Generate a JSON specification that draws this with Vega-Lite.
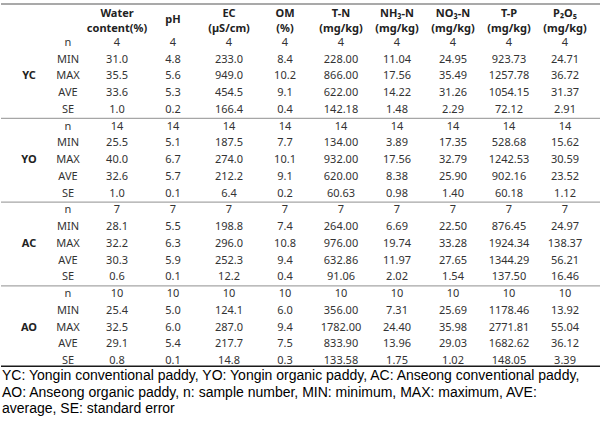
{
  "$schema": "https://vega.github.io/schema/vega-lite/v6.json",
  "autosize": {"type": "fit", "contains": "padding"},
  "width": 601,
  "height": 426,
  "padding": 0,
  "background": "white",
  "config": {"view": {"stroke": null}},
  "datasets": {
    "table": [
      {"r": 0, "grp": "YC", "stat": "n", "w": "4", "ph": "4", "ec": "4", "om": "4", "tn": "4", "nh3": "4", "no3": "4", "tp": "4", "p2o5": "4"},
      {"r": 1, "grp": "YC", "stat": "MIN", "w": "31.0", "ph": "4.8", "ec": "233.0", "om": "8.4", "tn": "228.00", "nh3": "11.04", "no3": "24.95", "tp": "923.73", "p2o5": "24.71"},
      {"r": 2, "grp": "YC", "stat": "MAX", "w": "35.5", "ph": "5.6", "ec": "949.0", "om": "10.2", "tn": "866.00", "nh3": "17.56", "no3": "35.49", "tp": "1257.78", "p2o5": "36.72"},
      {"r": 3, "grp": "YC", "stat": "AVE", "w": "33.6", "ph": "5.3", "ec": "454.5", "om": "9.1", "tn": "622.00", "nh3": "14.22", "no3": "31.26", "tp": "1054.15", "p2o5": "31.37"},
      {"r": 4, "grp": "YC", "stat": "SE", "w": "1.0", "ph": "0.2", "ec": "166.4", "om": "0.4", "tn": "142.18", "nh3": "1.48", "no3": "2.29", "tp": "72.12", "p2o5": "2.91"},
      {"r": 5, "grp": "YO", "stat": "n", "w": "14", "ph": "14", "ec": "14", "om": "14", "tn": "14", "nh3": "14", "no3": "14", "tp": "14", "p2o5": "14"},
      {"r": 6, "grp": "YO", "stat": "MIN", "w": "25.5", "ph": "5.1", "ec": "187.5", "om": "7.7", "tn": "134.00", "nh3": "3.89", "no3": "17.35", "tp": "528.68", "p2o5": "15.62"},
      {"r": 7, "grp": "YO", "stat": "MAX", "w": "40.0", "ph": "6.7", "ec": "274.0", "om": "10.1", "tn": "932.00", "nh3": "17.56", "no3": "32.79", "tp": "1242.53", "p2o5": "30.59"},
      {"r": 8, "grp": "YO", "stat": "AVE", "w": "32.6", "ph": "5.7", "ec": "212.2", "om": "9.1", "tn": "620.00", "nh3": "8.38", "no3": "25.90", "tp": "902.16", "p2o5": "23.52"},
      {"r": 9, "grp": "YO", "stat": "SE", "w": "1.0", "ph": "0.1", "ec": "6.4", "om": "0.2", "tn": "60.63", "nh3": "0.98", "no3": "1.40", "tp": "60.18", "p2o5": "1.12"},
      {"r": 10, "grp": "AC", "stat": "n", "w": "7", "ph": "7", "ec": "7", "om": "7", "tn": "7", "nh3": "7", "no3": "7", "tp": "7", "p2o5": "7"},
      {"r": 11, "grp": "AC", "stat": "MIN", "w": "28.1", "ph": "5.5", "ec": "198.8", "om": "7.4", "tn": "264.00", "nh3": "6.69", "no3": "22.50", "tp": "876.45", "p2o5": "24.97"},
      {"r": 12, "grp": "AC", "stat": "MAX", "w": "32.2", "ph": "6.3", "ec": "296.0", "om": "10.8", "tn": "976.00", "nh3": "19.74", "no3": "33.28", "tp": "1924.34", "p2o5": "138.37"},
      {"r": 13, "grp": "AC", "stat": "AVE", "w": "30.3", "ph": "5.9", "ec": "252.3", "om": "9.4", "tn": "632.86", "nh3": "11.97", "no3": "27.65", "tp": "1344.29", "p2o5": "56.21"},
      {"r": 14, "grp": "AC", "stat": "SE", "w": "0.6", "ph": "0.1", "ec": "12.2", "om": "0.4", "tn": "91.06", "nh3": "2.02", "no3": "1.54", "tp": "137.50", "p2o5": "16.46"},
      {"r": 15, "grp": "AO", "stat": "n", "w": "10", "ph": "10", "ec": "10", "om": "10", "tn": "10", "nh3": "10", "no3": "10", "tp": "10", "p2o5": "10"},
      {"r": 16, "grp": "AO", "stat": "MIN", "w": "25.4", "ph": "5.0", "ec": "124.1", "om": "6.0", "tn": "356.00", "nh3": "7.31", "no3": "25.69", "tp": "1178.46", "p2o5": "13.92"},
      {"r": 17, "grp": "AO", "stat": "MAX", "w": "32.5", "ph": "6.0", "ec": "287.0", "om": "9.4", "tn": "1782.00", "nh3": "24.40", "no3": "35.98", "tp": "2771.81", "p2o5": "55.04"},
      {"r": 18, "grp": "AO", "stat": "AVE", "w": "29.1", "ph": "5.4", "ec": "217.7", "om": "7.5", "tn": "833.90", "nh3": "13.96", "no3": "29.03", "tp": "1682.62", "p2o5": "36.12"},
      {"r": 19, "grp": "AO", "stat": "SE", "w": "0.8", "ph": "0.1", "ec": "14.8", "om": "0.3", "tn": "133.58", "nh3": "1.75", "no3": "1.02", "tp": "148.05", "p2o5": "3.39"}
    ],
    "cols": [
      {"key": "grp", "ci": 0},
      {"key": "stat", "ci": 1},
      {"key": "w", "ci": 2},
      {"key": "ph", "ci": 3},
      {"key": "ec", "ci": 4},
      {"key": "om", "ci": 5},
      {"key": "tn", "ci": 6},
      {"key": "nh3", "ci": 7},
      {"key": "no3", "ci": 8},
      {"key": "tp", "ci": 9},
      {"key": "p2o5", "ci": 10}
    ],
    "header": [
      {"ci": 2, "label": "Water\ncontent(%)"},
      {"ci": 4, "label": "EC\n(µS/cm)"},
      {"ci": 5, "label": "OM\n(%)"},
      {"ci": 6, "label": "T-N\n(mg/kg)"},
      {"ci": 7, "label": "NH₃-N\n(mg/kg)"},
      {"ci": 8, "label": "NO₃-N\n(mg/kg)"},
      {"ci": 9, "label": "T-P\n(mg/kg)"},
      {"ci": 10, "label": "P₂O₅\n(mg/kg)"}
    ],
    "lines": [
      {"r": -2.33, "kind": "top"},
      {"r": 4.5, "kind": "sep"},
      {"r": 9.5, "kind": "sep"},
      {"r": 14.5, "kind": "sep"},
      {"r": 19.3, "kind": "bottom"}
    ],
    "notes": [
      {"r": 20, "label": "YC: Yongin conventional paddy, YO: Yongin organic paddy, AC: Anseong conventional paddy,"},
      {"r": 21, "label": "AO: Anseong organic paddy, n: sample number, MIN: minimum, MAX: maximum, AVE:"},
      {"r": 22, "label": "average, SE: standard error"}
    ]
  },
  "layer": [
    {
      "data": {"name": "lines"},
      "mark": {"type": "rule"},
      "encoding": {
        "y": {"field": "r", "type": "quantitative", "scale": {"domain": [-2.567, 22.866], "reverse": true, "nice": false, "zero": false}, "axis": null},
        "color": {"field": "kind", "type": "nominal", "scale": {"domain": ["top", "sep", "bottom"], "range": ["#8c8c8c", "#a6a6a6", "#1a1a1a"]}, "legend": null},
        "strokeWidth": {"field": "kind", "type": "nominal", "scale": {"domain": ["top", "sep", "bottom"], "range": [1.6, 1.3, 1.1]}, "legend": null}
      }
    },
    {
      "data": {"name": "header"},
      "mark": {"type": "text", "font": "Noto Sans", "fontSize": 11, "fontWeight": "bold", "lineBreak": "\n", "lineHeight": 15, "baseline": "middle", "align": "center", "color": "#222"},
      "encoding": {
        "x": {"field": "ci", "type": "quantitative", "scale": {"domain": [0, 1, 2, 10], "range": [28, 67, 116, 564], "nice": false, "zero": false}, "axis": null},
        "y": {"datum": -1.76, "type": "quantitative"},
        "text": {"field": "label"}
      }
    },
    {
      "data": {"values": [{"ci": 3, "label": "pH"}]},
      "mark": {"type": "text", "font": "Noto Sans", "fontSize": 11, "fontWeight": "bold", "baseline": "middle", "align": "center", "color": "#222"},
      "encoding": {
        "x": {"field": "ci", "type": "quantitative"},
        "y": {"datum": -1.35, "type": "quantitative"},
        "text": {"field": "label"}
      }
    },
    {
      "data": {"name": "table"},
      "transform": [
        {"fold": ["stat", "w", "ph", "ec", "om", "tn", "nh3", "no3", "tp", "p2o5"]},
        {"lookup": "key", "from": {"data": {"name": "cols"}, "key": "key", "fields": ["ci"]}}
      ],
      "mark": {"type": "text", "font": "Noto Sans", "fontSize": 11, "baseline": "middle", "align": "center", "color": "#333"},
      "encoding": {
        "x": {"field": "ci", "type": "quantitative"},
        "y": {"field": "r", "type": "quantitative"},
        "text": {"field": "value"}
      }
    },
    {
      "data": {"name": "table"},
      "transform": [
        {"filter": "datum.stat === 'MAX'"},
        {"lookup": "grp", "from": {"data": {"values": [{"g": "YC", "ci": 0}, {"g": "YO", "ci": 0}, {"g": "AC", "ci": 0}, {"g": "AO", "ci": 0}]}, "key": "g", "fields": ["ci"]}}
      ],
      "mark": {"type": "text", "font": "Noto Sans", "fontSize": 11, "fontWeight": "bold", "baseline": "middle", "align": "center", "color": "#222"},
      "encoding": {
        "x": {"field": "ci", "type": "quantitative"},
        "y": {"field": "r", "type": "quantitative"},
        "text": {"field": "grp"}
      }
    },
    {
      "data": {"name": "notes"},
      "mark": {"type": "text", "font": "Liberation Sans", "fontSize": 14, "baseline": "middle", "align": "left", "color": "#000", "dy": -2},
      "encoding": {
        "x": {"value": 1},
        "y": {"field": "r", "type": "quantitative"},
        "text": {"field": "label"}
      }
    }
  ]
}
